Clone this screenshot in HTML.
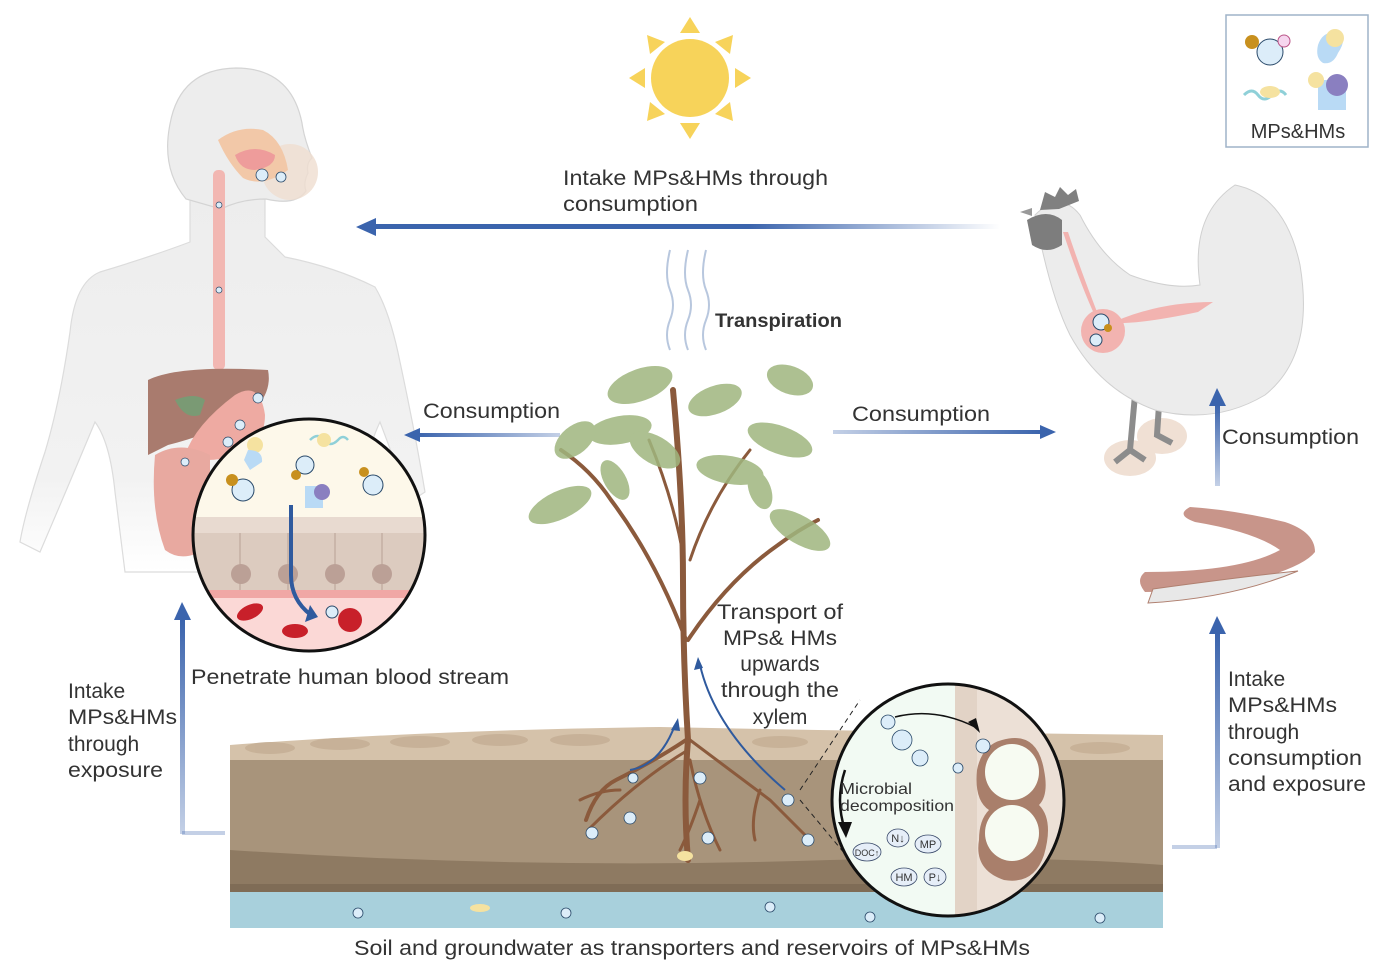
<!DOCTYPE html>
<html><head><meta charset="utf-8"><style>
html,body{margin:0;padding:0;background:#fff;}
svg{display:block;}
text{font-family:"Liberation Sans",Arial,sans-serif;fill:#333;}
</style></head><body>
<svg width="1393" height="975" viewBox="0 0 1393 975" xmlns="http://www.w3.org/2000/svg">
<defs>
<linearGradient id="gTop" x1="0" x2="1"><stop offset="0" stop-color="#3b64ad"/><stop offset="0.6" stop-color="#3b64ad"/><stop offset="1" stop-color="#3b64ad" stop-opacity="0"/></linearGradient>
<linearGradient id="gL" x1="0" x2="1"><stop offset="0" stop-color="#3b64ad"/><stop offset="1" stop-color="#3b64ad" stop-opacity="0.3"/></linearGradient>
<linearGradient id="gR" x1="0" x2="1"><stop offset="0" stop-color="#3b64ad" stop-opacity="0.3"/><stop offset="1" stop-color="#3b64ad"/></linearGradient>
<linearGradient id="gV" x1="0" y1="1" x2="0" y2="0"><stop offset="0" stop-color="#3b64ad" stop-opacity="0.3"/><stop offset="1" stop-color="#3b64ad"/></linearGradient>
<linearGradient id="gBody" x1="0" y1="0" x2="0" y2="1"><stop offset="0" stop-color="#ededed"/><stop offset="0.75" stop-color="#f2f2f2"/><stop offset="1" stop-color="#fff"/></linearGradient>
<clipPath id="cL"><circle cx="309" cy="535" r="116"/></clipPath>
<clipPath id="cR"><circle cx="948" cy="800" r="116"/></clipPath>
</defs>

<!-- Sun -->
<g fill="#f7d35a">
<circle cx="690" cy="78" r="39"/>
<polygon points="690,17 680,33 700,33"/><polygon points="690,139 680,123 700,123"/>
<polygon points="629,78 645,68 645,88"/><polygon points="751,78 735,68 735,88"/>
<polygon points="647,35 650,54 665,42"/><polygon points="733,35 715,42 730,54"/>
<polygon points="647,121 665,114 650,102"/><polygon points="733,121 730,102 715,114"/>
</g>

<!-- Legend -->
<rect x="1226" y="15" width="142" height="132" fill="#fff" stroke="#9fb3c8" stroke-width="1.5"/>
<circle cx="1252" cy="42" r="7" fill="#c8901e"/><circle cx="1270" cy="52" r="13" fill="#dcedf9" stroke="#2a4a6a"/><circle cx="1284" cy="41" r="6" fill="#f6d6ef" stroke="#b58"/>
<path d="M1318,45 q5,-15 20,-12 q10,5 0,20 q-5,12 -15,10 q-8,-5 -5,-18z" fill="#b9daf5"/><circle cx="1335" cy="38" r="9" fill="#f5e2a0"/>
<path d="M1244,95 q8,-8 14,0 q6,8 14,0 q8,-8 14,0" stroke="#8fd0d8" stroke-width="3" fill="none"/><ellipse cx="1270" cy="92" rx="10" ry="6" fill="#f5e2a0"/>
<rect x="1318" y="80" width="28" height="30" fill="#b9daf5"/><circle cx="1316" cy="80" r="8" fill="#f5e2a0"/><circle cx="1337" cy="85" r="11" fill="#8a7fc0"/>
<text x="1298" y="138" font-size="20" text-anchor="middle">MPs&amp;HMs</text>

<!-- Human -->
<path d="M190,200 l0,42 q-40,15 -90,30 q-25,10 -30,60 q-10,70 -25,120 q-20,60 -25,90 l20,10 q30,-70 55,-130 q15,20 20,70 q5,40 10,80 l230,0 q5,-60 10,-110 q10,-30 15,-40 q15,40 30,80 l15,-10 q-10,-60 -25,-130 q-10,-50 -25,-75 q-40,-20 -90,-30 l-20,-20 0,-40z" fill="url(#gBody)" stroke="#dcdcdc" stroke-width="1.2"/>
<path d="M236,68 q55,0 66,55 q2,15 10,35 q-6,5 -4,15 q-5,10 -2,18 q-10,15 -40,8 q-25,0 -45,10 l-35,-10 q-25,-30 -16,-75 q10,-55 66,-56z" fill="#ededed" stroke="#d4d4d4" stroke-width="1.2"/>
<circle cx="290" cy="172" r="28" fill="#efddd0" opacity="0.8"/>
<path d="M218,140 q20,-15 45,-10 q20,10 25,40 q-25,18 -45,8 q-15,-15 -25,-38z" fill="#f2c8a8"/>
<path d="M235,155 q20,-12 40,0 q0,12 -20,15 q-15,0 -20,-15z" fill="#ee9c9b"/>
<circle cx="262" cy="175" r="6" fill="#dcedf9" stroke="#2a4a6a" stroke-width="0.8"/><circle cx="281" cy="177" r="5" fill="#dcedf9" stroke="#2a4a6a" stroke-width="0.8"/>
<rect x="213" y="170" width="12" height="200" rx="5" fill="#f2b7b2"/>
<path d="M148,380 q30,-15 120,-10 q5,25 -20,45 q-40,20 -80,30 l-20,10z" fill="#a97b6e"/>
<path d="M175,400 q20,-8 30,0 l-5,15 q-15,5 -25,-15z" fill="#7a9a74"/>
<path d="M235,395 q25,-15 30,20 q0,30 -30,40 q-30,10 -50,0 q10,-30 50,-60z" fill="#eeaaa2"/>
<path d="M155,455 q25,-15 55,0 l0,90 q-25,20 -45,5 q-15,-40 -10,-95z" fill="#e8a9a0"/>
<g fill="#dcedf9" stroke="#2a4a6a" stroke-width="0.7"><circle cx="240" cy="425" r="5"/><circle cx="258" cy="398" r="5"/><circle cx="228" cy="442" r="5"/><circle cx="185" cy="462" r="4"/><circle cx="219" cy="205" r="3"/><circle cx="219" cy="290" r="3"/></g>

<!-- Left circle -->
<g clip-path="url(#cL)">
<rect x="190" y="415" width="240" height="240" fill="#fdf8ea"/>
<rect x="190" y="517" width="240" height="17" fill="#e8dad0"/>
<rect x="190" y="533" width="240" height="60" fill="#dccbbf"/>
<g stroke="#b8a096" stroke-width="1"><line x1="240" y1="533" x2="240" y2="593"/><line x1="288" y1="533" x2="288" y2="593"/><line x1="335" y1="533" x2="335" y2="593"/><line x1="382" y1="533" x2="382" y2="593"/></g>
<g fill="#bba096"><circle cx="241" cy="574" r="10"/><circle cx="288" cy="574" r="10"/><circle cx="335" cy="574" r="10"/><circle cx="382" cy="574" r="10"/></g>
<rect x="190" y="590" width="240" height="8" fill="#f0a7a5"/>
<rect x="190" y="598" width="240" height="60" fill="#fbd8d6"/>
<ellipse cx="250" cy="612" rx="14" ry="7" fill="#c8202a" transform="rotate(-25 250 612)"/>
<ellipse cx="295" cy="631" rx="13" ry="7" fill="#c8202a"/>
<circle cx="350" cy="620" r="12" fill="#c8202a"/>
</g>
<circle cx="255" cy="445" r="8" fill="#f5e2a0"/><path d="M248,450 q15,0 14,12 l-12,8 -6,-10z" fill="#b9daf5"/>
<path d="M310,440 q8,-8 14,0 q6,8 14,0 q5,-6 10,0" stroke="#8fd0d8" stroke-width="2.5" fill="none"/><circle cx="324" cy="440" r="7" fill="#f5e2a0"/>
<g stroke="#2a4a6a" stroke-width="1"><circle cx="305" cy="465" r="9" fill="#dcedf9"/><circle cx="243" cy="490" r="11" fill="#dcedf9"/><circle cx="373" cy="485" r="10" fill="#dcedf9"/><circle cx="332" cy="612" r="6" fill="#dcedf9"/></g>
<circle cx="232" cy="480" r="6" fill="#c8901e"/><circle cx="296" cy="475" r="5" fill="#c8901e"/><circle cx="364" cy="472" r="5" fill="#c8901e"/>
<rect x="305" y="486" width="18" height="22" fill="#b9daf5"/><circle cx="322" cy="492" r="8" fill="#8a7fc0"/>
<path d="M291,505 v70 q0,25 20,40" stroke="#2f5a9e" stroke-width="4" fill="none"/><polygon points="305,622 318,617 310,605" fill="#2f5a9e"/>
<circle cx="309" cy="535" r="116" fill="none" stroke="#111" stroke-width="3"/>

<!-- Top arrow -->
<rect x="372" y="224" width="628" height="5" fill="url(#gTop)"/>
<polygon points="356,227 376,218 376,236" fill="#3b64ad"/>
<text x="563" y="185" font-size="21" textLength="265" lengthAdjust="spacingAndGlyphs">Intake MPs&amp;HMs through</text>
<text x="563" y="211" font-size="21" textLength="135" lengthAdjust="spacingAndGlyphs">consumption</text>

<!-- Transpiration -->
<g stroke="#b8c7de" stroke-width="2" fill="none">
<path d="M670,350 q-6,-15 0,-30 q6,-15 0,-30 q-6,-15 0,-40"/>
<path d="M688,350 q-6,-15 0,-30 q6,-15 0,-30 q-6,-15 0,-40"/>
<path d="M706,350 q-6,-15 0,-30 q6,-15 0,-30 q-6,-15 0,-40"/>
</g>
<text x="715" y="327" font-size="19" font-weight="bold" textLength="127" lengthAdjust="spacingAndGlyphs">Transpiration</text>

<!-- Consumption arrows -->
<rect x="418" y="433" width="142" height="4" fill="url(#gL)"/><polygon points="404,435 420,428 420,442" fill="#3b64ad"/>
<text x="423" y="418" font-size="21" textLength="137" lengthAdjust="spacingAndGlyphs">Consumption</text>
<rect x="833" y="430" width="208" height="4" fill="url(#gR)"/><polygon points="1056,432 1040,425 1040,439" fill="#3b64ad"/>
<text x="852" y="421" font-size="21" textLength="138" lengthAdjust="spacingAndGlyphs">Consumption</text>

<!-- Chicken -->
<ellipse cx="1130" cy="458" rx="26" ry="18" fill="#f0e0d4"/><ellipse cx="1162" cy="436" rx="25" ry="18" fill="#f0e0d4"/>
<path d="M1135,395 l-5,55 -15,12 M1130,450 l15,10 M1160,390 l-3,45 15,8" stroke="#8c8c8c" stroke-width="6" fill="none"/>
<path d="M1035,215 q25,-25 45,0 q20,40 50,60 q40,15 70,10 q-10,-70 35,-100 q50,10 65,80 q15,90 -35,130 q-50,30 -110,15 q-55,-20 -85,-75 q-20,-40 -35,-120z" fill="#ececec" stroke="#d0d0d0"/>
<path d="M1040,210 l5,-18 10,5 5,-10 8,8 8,-6 3,12 -20,8z" fill="#808080"/>
<path d="M1027,220 q20,-12 35,0 l0,25 q-15,10 -30,0z" fill="#7d7d7d"/><path d="M1020,212 l12,-4 0,8z" fill="#999"/>
<path d="M1063,232 q20,60 35,90 q30,5 100,-10 l15,-10 q-60,0 -110,25 q-20,-50 -35,-95z" fill="#f2b3b0"/>
<circle cx="1103" cy="331" r="22" fill="#f2b3b0"/>
<circle cx="1101" cy="322" r="8" fill="#dcedf9" stroke="#2a4a6a"/><circle cx="1096" cy="340" r="6" fill="#dcedf9" stroke="#2a4a6a"/><circle cx="1108" cy="328" r="4" fill="#c8901e"/>
<rect x="1215" y="404" width="5" height="82" fill="url(#gV)"/><polygon points="1217,388 1209,406 1226,406" fill="#3b64ad"/>
<text x="1222" y="444" font-size="21" textLength="137" lengthAdjust="spacingAndGlyphs">Consumption</text>

<!-- Worm -->
<path d="M1145,592 q70,0 120,-15 q40,-12 50,-25 q0,-20 -30,-30 q-50,-12 -95,-15 q-15,8 5,15 q60,10 85,28 q-40,22 -135,22 q-10,8 0,20z" fill="#c8958a"/>
<path d="M1148,603 q85,-5 150,-32 q-50,5 -145,18z" fill="#e8e8e8" stroke="#b08070"/>
<rect x="1215" y="633" width="5" height="215" fill="url(#gV)"/><polygon points="1217,616 1209,634 1226,634" fill="#3b64ad"/>
<line x1="1172" y1="847" x2="1217" y2="847" stroke="#3b64ad" stroke-opacity="0.3" stroke-width="4"/>
<g font-size="21"><text x="1228" y="686">Intake</text><text x="1228" y="712" textLength="109" lengthAdjust="spacingAndGlyphs">MPs&amp;HMs</text><text x="1228" y="739">through</text><text x="1228" y="765" textLength="134" lengthAdjust="spacingAndGlyphs">consumption</text><text x="1228" y="791" textLength="138" lengthAdjust="spacingAndGlyphs">and exposure</text></g>

<!-- Left up arrow -->
<rect x="180" y="620" width="5" height="214" fill="url(#gV)"/><polygon points="182,602 174,620 191,620" fill="#3b64ad"/>
<line x1="182" y1="833" x2="225" y2="833" stroke="#3b64ad" stroke-opacity="0.3" stroke-width="4"/>
<g font-size="21"><text x="68" y="698">Intake</text><text x="68" y="724" textLength="109" lengthAdjust="spacingAndGlyphs">MPs&amp;HMs</text><text x="68" y="751">through</text><text x="68" y="777" textLength="95" lengthAdjust="spacingAndGlyphs">exposure</text></g>
<text x="191" y="684" font-size="21" textLength="318" lengthAdjust="spacingAndGlyphs">Penetrate human blood stream</text>

<!-- Soil -->
<path d="M230,745 q200,-15 430,-18 q250,5 503,8 l0,160 -933,0z" fill="#d5c2aa"/>
<rect x="230" y="760" width="933" height="135" fill="#a8947b"/>
<path d="M230,850 q300,20 600,10 q200,-5 333,5 l0,30 -933,0z" fill="#8e7a62"/>
<rect x="230" y="884" width="933" height="8" fill="#7f6c56"/>
<rect x="230" y="892" width="933" height="36" fill="#a8d0dc"/>
<g fill="#c4ae94" opacity="0.8">
<ellipse cx="270" cy="748" rx="25" ry="6"/><ellipse cx="340" cy="744" rx="30" ry="6"/><ellipse cx="420" cy="742" rx="30" ry="6"/><ellipse cx="500" cy="740" rx="28" ry="6"/><ellipse cx="580" cy="740" rx="30" ry="6"/><ellipse cx="780" cy="742" rx="28" ry="6"/><ellipse cx="1100" cy="748" rx="30" ry="6"/>
</g>
<text x="354" y="955" font-size="21" textLength="676" lengthAdjust="spacingAndGlyphs">Soil and groundwater as transporters and reservoirs of MPs&amp;HMs</text>

<!-- Tree -->
<g stroke="#8b5a3c" fill="none" stroke-linecap="round">
<path d="M688,860 q-5,-60 0,-120 q-5,-80 -5,-160 q0,-80 -10,-190" stroke-width="6"/>
<path d="M686,640 q-30,-80 -75,-140 q-20,-30 -50,-50" stroke-width="4"/>
<path d="M688,640 q40,-60 90,-95 q20,-15 40,-25" stroke-width="4"/>
<path d="M684,560 q-10,-60 -35,-120" stroke-width="3"/>
<path d="M690,560 q20,-60 60,-110" stroke-width="3"/>
<path d="M686,740 q-30,20 -70,40 q-20,10 -30,40" stroke-width="4"/>
<path d="M688,750 q-50,30 -100,80 M620,790 q-20,0 -40,10" stroke-width="3"/>
<path d="M690,760 q10,50 30,90 M700,800 q-10,30 -20,50" stroke-width="3"/>
<path d="M690,740 q40,30 80,60 q20,20 40,40 M760,790 q-10,30 -5,50" stroke-width="3"/>
</g>
<g fill="#9fb67e" opacity="0.85">
<ellipse cx="640" cy="385" rx="34" ry="16" transform="rotate(-20 640 385)"/>
<ellipse cx="620" cy="430" rx="32" ry="14" transform="rotate(-10 620 430)"/>
<ellipse cx="575" cy="440" rx="24" ry="14" transform="rotate(-40 575 440)"/>
<ellipse cx="560" cy="505" rx="34" ry="14" transform="rotate(-25 560 505)"/>
<ellipse cx="655" cy="450" rx="28" ry="14" transform="rotate(30 655 450)"/>
<ellipse cx="715" cy="400" rx="28" ry="14" transform="rotate(-20 715 400)"/>
<ellipse cx="730" cy="470" rx="34" ry="14" transform="rotate(10 730 470)"/>
<ellipse cx="780" cy="440" rx="34" ry="14" transform="rotate(20 780 440)"/>
<ellipse cx="790" cy="380" rx="24" ry="14" transform="rotate(20 790 380)"/>
<ellipse cx="800" cy="530" rx="34" ry="14" transform="rotate(30 800 530)"/>
<ellipse cx="615" cy="480" rx="22" ry="11" transform="rotate(60 615 480)"/>
<ellipse cx="760" cy="490" rx="20" ry="11" transform="rotate(70 760 490)"/>
</g>
<path d="M630,770 q30,-5 45,-45" stroke="#2f5a9e" stroke-width="2" fill="none"/><polygon points="678,718 671,730 680,731" fill="#2f5a9e"/>
<path d="M785,790 q-70,-60 -85,-125" stroke="#2f5a9e" stroke-width="2" fill="none"/><polygon points="698,657 694,670 703,668" fill="#2f5a9e"/>
<g font-size="21" text-anchor="middle"><text x="780" y="619" textLength="126" lengthAdjust="spacingAndGlyphs">Transport of</text><text x="780" y="645" textLength="114" lengthAdjust="spacingAndGlyphs">MPs&amp; HMs</text><text x="780" y="671">upwards</text><text x="780" y="697" textLength="118" lengthAdjust="spacingAndGlyphs">through the</text><text x="780" y="724">xylem</text></g>
<g stroke="#2a4a6a" stroke-width="0.8" fill="#dcedf9">
<circle cx="633" cy="778" r="5"/><circle cx="700" cy="778" r="6"/><circle cx="630" cy="818" r="6"/><circle cx="592" cy="833" r="6"/><circle cx="708" cy="838" r="6"/><circle cx="788" cy="800" r="6"/><circle cx="808" cy="840" r="6"/>
<circle cx="358" cy="913" r="5"/><circle cx="566" cy="913" r="5"/><circle cx="770" cy="907" r="5"/><circle cx="870" cy="917" r="5"/><circle cx="1100" cy="918" r="5"/>
</g>
<ellipse cx="685" cy="856" rx="8" ry="5" fill="#f5e2a0"/><ellipse cx="480" cy="908" rx="10" ry="4" fill="#f5e2a0"/>
<line x1="800" y1="790" x2="860" y2="700" stroke="#222" stroke-dasharray="5,4"/>
<line x1="800" y1="800" x2="850" y2="860" stroke="#222" stroke-dasharray="5,4"/>

<!-- Right circle -->
<g clip-path="url(#cR)">
<rect x="830" y="680" width="240" height="240" fill="#f2faf3"/>
<rect x="955" y="680" width="120" height="240" fill="#ece0d6"/>
<rect x="955" y="680" width="22" height="240" fill="#e2d3c6"/>
<path d="M1002,740 q35,-10 42,30 q5,25 -5,35 q15,15 5,50 q-10,30 -40,25 q-30,-10 -25,-40 q0,-20 10,-30 q-15,-10 -12,-40 q5,-25 25,-30z" fill="#a97f6b"/>
<ellipse cx="1012" cy="772" rx="27" ry="28" fill="#f7fbf2"/><ellipse cx="1012" cy="833" rx="27" ry="28" fill="#f7fbf2"/>
</g>
<g stroke="#2a4a6a" stroke-width="0.8" fill="#dcedf9"><circle cx="888" cy="722" r="7"/><circle cx="902" cy="740" r="10"/><circle cx="920" cy="758" r="8"/><circle cx="983" cy="746" r="7"/><circle cx="958" cy="768" r="5"/></g>
<path d="M895,717 q40,-10 80,10" stroke="#111" stroke-width="1.5" fill="none"/><polygon points="980,733 968,722 976,718" fill="#111"/>
<path d="M845,770 q-10,30 0,60" stroke="#111" stroke-width="2.5" fill="none"/><polygon points="846,838 838,822 852,822" fill="#111"/>
<text x="840" y="794" font-size="16" textLength="72" lengthAdjust="spacingAndGlyphs">Microbial</text><text x="840" y="811" font-size="16" textLength="114" lengthAdjust="spacingAndGlyphs">decomposition</text>
<g stroke="#3a4a6a" stroke-width="0.8" fill="#e6eef8"><ellipse cx="867" cy="852" rx="14" ry="9"/><ellipse cx="898" cy="838" rx="11" ry="9"/><ellipse cx="928" cy="844" rx="13" ry="9"/><ellipse cx="904" cy="877" rx="13" ry="9"/><ellipse cx="935" cy="877" rx="11" ry="9"/></g>
<g font-size="11" text-anchor="middle"><text x="867" y="856" font-size="9">DOC↑</text><text x="898" y="842">N↓</text><text x="928" y="848">MP</text><text x="904" y="881">HM</text><text x="935" y="881">P↓</text></g>
<circle cx="948" cy="800" r="116" fill="none" stroke="#111" stroke-width="3"/>
</svg>
</body></html>
